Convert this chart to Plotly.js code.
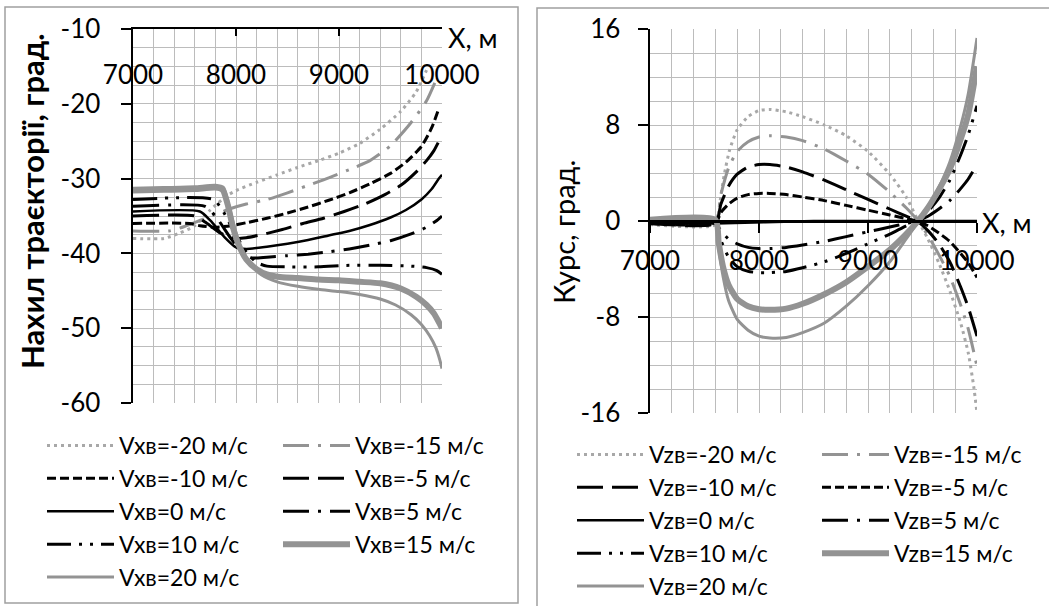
<!DOCTYPE html>
<html><head><meta charset="utf-8">
<script src="https://cdn.plot.ly/plotly-3.0.1.min.js"></script>
<style>html,body{margin:0;padding:0;background:#fff}#chart{width:1049px;height:606px}</style>
</head><body><div id="chart"></div>
<script>
// ---------- Left panel: pitch of trajectory (deg) vs X (m) ----------
const pitchNames = ['Vxв=-20 м/с','Vxв=-15 м/с','Vxв=-10 м/с','Vxв=-5 м/с','Vxв=0 м/с','Vxв=5 м/с','Vxв=10 м/с','Vxв=15 м/с','Vxв=20 м/с'];
const pitchX_m20 = [7000,7300,7450,7600,7750,7900,8000,8200,8400,8600,8800,9000,9200,9400,9600,9750,9850];
const pitchY_m20 = [-38,-38,-37.3,-36.3,-34.2,-32.4,-31.6,-30.5,-29.5,-28.5,-27.6,-26.6,-25.3,-23.4,-21,-18.4,-15.5];
const pitchX_m15 = [7000,7350,7500,7650,7800,7950,8100,8300,8500,8700,8900,9100,9300,9500,9700,9850,9930];
const pitchY_m15 = [-37,-37,-36.4,-35.6,-34.8,-34.0,-33.4,-32.8,-31.9,-30.9,-29.9,-28.8,-27.6,-25.6,-22.5,-19.6,-17.2];
const pitchX_m10 = [7000,7550,7650,7800,7950,8100,8300,8500,8700,8900,9100,9300,9500,9650,9800,9900,9970];
const pitchY_m10 = [-36,-36,-36.3,-36.5,-36.3,-35.9,-35.3,-34.6,-33.8,-32.9,-31.9,-30.7,-29.3,-27.8,-25.7,-23.2,-20.6];
const pitchX_m5 = [7000,7600,7700,7850,8000,8100,8250,8450,8650,8850,9050,9250,9450,9600,9750,9850,9920,9970];
const pitchY_m5 = [-35,-35,-35.8,-37.3,-38.0,-37.9,-37.5,-36.8,-36.0,-35.3,-34.4,-33.4,-32.1,-30.9,-29.1,-27.6,-26.3,-25.0];
const pitchX_0 = [7000,7650,7750,7900,8000,8100,8300,8500,8700,8900,9100,9300,9500,9650,9800,9900,9970,10000];
const pitchY_0 = [-34.4,-34.4,-35.6,-38.0,-39.2,-39.4,-39.1,-38.7,-38.2,-37.6,-37.0,-36.2,-35.2,-34.2,-32.8,-31.4,-30.0,-29.5];
const pitchX_p5 = [7000,7700,7800,7950,8050,8150,8300,8500,8700,8900,9100,9300,9500,9700,9850,9950,10000];
const pitchY_p5 = [-33.7,-33.7,-35.0,-38.0,-39.7,-40.6,-40.5,-40.3,-40.1,-39.8,-39.4,-38.9,-38.3,-37.4,-36.5,-35.6,-35.0];
const pitchX_p10 = [7000,7780,7880,8000,8100,8200,8300,8500,8800,9100,9400,9700,9850,9950,10000];
const pitchY_p10 = [-32.8,-32.8,-34.5,-37.6,-39.8,-41.2,-41.7,-41.8,-41.8,-41.6,-41.6,-41.7,-41.9,-42.3,-42.8];
const pitchX_p15 = [7000,7300,7600,7800,7870,7920,7970,8030,8100,8200,8300,8450,8600,8800,9000,9200,9400,9600,9750,9850,9920,9970,10000];
const pitchY_p15 = [-31.6,-31.5,-31.4,-31.2,-31.5,-33.5,-36.5,-39.0,-40.8,-42.1,-42.8,-43.2,-43.3,-43.5,-43.6,-43.8,-44.0,-44.7,-45.8,-46.9,-48.0,-49.2,-50.0];
const pitchX_p20 = [7000,7300,7600,7800,7880,7930,7990,8060,8150,8250,8400,8600,8800,9000,9200,9400,9550,9700,9800,9880,9940,9980,10000];
const pitchY_p20 = [-31.3,-31.2,-31.1,-30.9,-31.2,-33.5,-36.8,-39.6,-41.6,-42.9,-43.8,-44.4,-44.8,-45.1,-45.5,-46.1,-46.9,-48.2,-49.5,-51.0,-52.6,-54.3,-55.4];

// ---------- Right panel: heading (deg) vs X (m) ----------
const headNames = ['Vzв=-20 м/с','Vzв=-15 м/с','Vzв=-10 м/с','Vzв=-5 м/с','Vzв=0 м/с','Vzв=5 м/с','Vzв=10 м/с','Vzв=15 м/с','Vzв=20 м/с'];
const headX_m20 = [7000,7600,7640,7680,7730,7800,7900,8000,8100,8250,8400,8600,8800,9000,9200,9350,9450,9550,9650,9750,9850,9920,9970,10000];
const headY_m20 = [-0.3,-0.3,1.5,3.8,5.9,7.6,8.7,9.2,9.3,9.1,8.7,8.0,7.1,5.8,3.9,2.0,0.2,-1.5,-3.5,-5.8,-8.5,-11,-13.8,-16];
const headX_mid = [7000,7600,7650,7720,7800,7900,8000,8100,8250,8400,8600,8800,9000,9200,9350,9450,9550,9650,9750,9850,9920,10000];
const headY_m15 = [0,0,2.2,4.4,5.8,6.6,7.0,7.1,7.0,6.7,6.0,5.0,3.9,2.4,1.1,0.1,-1.2,-2.8,-4.6,-7.0,-9.0,-12.1];
const headY_m10 = [-0.2,-0.2,1.4,2.9,3.9,4.5,4.7,4.7,4.5,4.1,3.4,2.6,1.8,1.0,0.4,0,-0.8,-1.9,-3.4,-5.5,-7.2,-9.6];
const headY_m5 = [-0.2,-0.2,0.7,1.4,1.9,2.2,2.3,2.3,2.2,2.0,1.7,1.3,0.9,0.5,0.2,0,-0.4,-1.0,-1.7,-2.7,-3.5,-4.7];
const headY_p5 = [-0.2,-0.2,-0.8,-1.5,-1.9,-2.2,-2.3,-2.3,-2.2,-2.0,-1.7,-1.3,-0.9,-0.5,-0.2,0,0.4,1.0,1.7,2.7,3.5,4.7];
const headY_p10 = [-0.2,-0.2,-1.6,-3.0,-3.8,-4.2,-4.3,-4.3,-4.2,-3.9,-3.4,-2.7,-1.9,-1.1,-0.4,0,0.8,1.9,3.4,5.5,7.2,9.6];
const headX_0 = [7000,7600,8500,9450,10000];
const headY_0 = [-0.2,-0.2,0,0,0];
const headX_gray = [7000,7600,7630,7670,7720,7800,7900,8000,8100,8250,8400,8600,8800,9000,9200,9350,9450,9550,9650,9750,9850,9920,10000];
const headY_p15 = [0.1,0.1,-1.8,-3.8,-5.3,-6.5,-7.1,-7.35,-7.4,-7.3,-6.9,-6.1,-5.1,-3.8,-2.4,-1.1,-0.1,1.1,2.6,4.3,6.8,8.9,12.9];
const headY_p20 = [0.1,0.1,-2.2,-4.6,-6.6,-8.2,-9.1,-9.6,-9.75,-9.7,-9.3,-8.5,-7.1,-5.4,-3.4,-1.5,-0.2,1.1,2.8,4.9,7.9,10.6,15.25];

// tick labels
const pitchTickVals = [-60,-50,-40,-30,-20,-10];
const pitchTickText = ['-60','-50','-40','-30','-20','-10'];
const headTickVals = [-16,-8,0,8,16];
const headTickText = ['-16','-8','0','8','16'];

// ---------- styles ----------
const GRAY = '#939393', GRAYL = '#a8a8a8', BLACK = '#000000';
const stDot   = {color: GRAYL, width: 3,   dash: '3px,4px'};
const stGLDD  = {color: GRAY,  width: 3,   dash: '26px,9px,3px,9px'};
const stShort = {color: BLACK, width: 3,   dash: '9px,4px'};
const stLong  = {color: BLACK, width: 3,   dash: '26px,9px'};
const stSolid = {color: BLACK, width: 2.5, dash: 'solid'};
const stLDD   = {color: BLACK, width: 3,   dash: '26px,9px,3px,9px'};
const stLDDD  = {color: BLACK, width: 3,   dash: '24px,8px,3px,8px,3px,8px'};
const stThick = {color: GRAY,  width: 6,   dash: 'solid'};
const stThin  = {color: GRAY,  width: 3,   dash: 'solid'};

function tr(x, y, name, line, xa, ya, legend) {
  return {type: 'scatter', mode: 'lines', x: x, y: y, name: name, line: Object.assign({shape: 'spline', smoothing: 0.6}, line),
          xaxis: xa, yaxis: ya, legend: legend, hoverinfo: 'skip'};
}

const traces = [
  tr(pitchX_m20, pitchY_m20, pitchNames[0], stDot,   'x', 'y', 'legend'),
  tr(pitchX_m15, pitchY_m15, pitchNames[1], stGLDD,  'x', 'y', 'legend2'),
  tr(pitchX_m10, pitchY_m10, pitchNames[2], stShort, 'x', 'y', 'legend'),
  tr(pitchX_m5,  pitchY_m5,  pitchNames[3], stLong,  'x', 'y', 'legend2'),
  tr(pitchX_0,   pitchY_0,   pitchNames[4], stSolid, 'x', 'y', 'legend'),
  tr(pitchX_p5,  pitchY_p5,  pitchNames[5], stLDD,   'x', 'y', 'legend2'),
  tr(pitchX_p10, pitchY_p10, pitchNames[6], stLDDD,  'x', 'y', 'legend'),
  tr(pitchX_p15, pitchY_p15, pitchNames[7], stThick, 'x', 'y', 'legend2'),
  tr(pitchX_p20, pitchY_p20, pitchNames[8], stThin,  'x', 'y', 'legend'),

  tr(headX_m20,  headY_m20, headNames[0], stDot,   'x2', 'y2', 'legend3'),
  tr(headX_mid,  headY_m15, headNames[1], stGLDD,  'x2', 'y2', 'legend4'),
  tr(headX_mid,  headY_m10, headNames[2], stLong,  'x2', 'y2', 'legend3'),
  tr(headX_mid,  headY_m5,  headNames[3], stShort, 'x2', 'y2', 'legend4'),
  tr(headX_0,    headY_0,   headNames[4], stSolid, 'x2', 'y2', 'legend3'),
  tr(headX_mid,  headY_p5,  headNames[5], stLDD,   'x2', 'y2', 'legend4'),
  tr(headX_mid,  headY_p10, headNames[6], stLDDD,  'x2', 'y2', 'legend3'),
  tr(headX_gray, headY_p15, headNames[7], stThick, 'x2', 'y2', 'legend4'),
  tr(headX_gray, headY_p20, headNames[8], stThin,  'x2', 'y2', 'legend3')
];

const W = 1049, H = 606;
const px = v => v / W, py = v => 1 - v / H;
const FONT = 'Lato, "Open Sans", sans-serif';
const GRID = '#bcbcbc';

function legendAt(x, y) {
  return {x: px(x), y: py(y), xanchor: 'left', yanchor: 'top', orientation: 'v', bgcolor: 'rgba(0,0,0,0)',
          borderwidth: 0, font: {family: FONT, size: 23, color: '#000'}, itemwidth: 67,
          traceorder: 'normal', itemclick: false, itemdoubleclick: false};
}

const layout = {
  width: W, height: H, margin: {l: 0, r: 0, t: 0, b: 0, autoexpand: false},
  paper_bgcolor: '#fff', plot_bgcolor: '#fff', showlegend: true,
  font: {family: FONT, color: '#000'},
  xaxis: {domain: [px(133), px(442)], range: [7000, 10000], anchor: 'y', side: 'top', automargin: false,
    showline: true, linecolor: '#000', linewidth: 2.5, ticks: 'inside', ticklen: 7, tickwidth: 2, tickcolor: '#000',
    tick0: 7000, dtick: 1000, tickformat: 'd', showgrid: true, gridcolor: GRID, gridwidth: 1, zeroline: false,
    minor: {tick0: 7000, dtick: 200, showgrid: true, gridcolor: GRID, gridwidth: 1, ticks: ''},
    ticklabelposition: 'inside', ticklabeloverflow: 'allow', ticklabelstandoff: 32,
    tickfont: {family: FONT, size: 26, color: '#000'}, fixedrange: true},
  yaxis: {domain: [py(403), py(29)], range: [-60, -10], anchor: 'x', automargin: false,
    showline: true, linecolor: '#000', linewidth: 2.5, ticks: 'outside', ticklen: 10, tickwidth: 2, tickcolor: '#000',
    tickmode: 'array', tickvals: pitchTickVals, ticktext: pitchTickText, showgrid: true, gridcolor: GRID, gridwidth: 1, zeroline: false,
    minor: {tickmode: 'linear', tick0: -60, dtick: 2.5, showgrid: true, gridcolor: GRID, gridwidth: 1, ticks: ''},
    ticklabelstandoff: 15, tickfont: {family: FONT, size: 26, color: '#000'}, fixedrange: true},
  xaxis2: {domain: [px(650), px(977)], range: [7000, 10000], anchor: 'free', position: (py(413) + py(29)) / 2, side: 'bottom', automargin: false,
    showline: true, linecolor: '#000', linewidth: 2.5, ticks: 'outside', ticklen: 10, tickwidth: 2, tickcolor: '#000',
    tick0: 7000, dtick: 1000, tickformat: 'd', showgrid: true, gridcolor: GRID, gridwidth: 1, zeroline: false,
    minor: {tick0: 7000, dtick: 200, showgrid: true, gridcolor: GRID, gridwidth: 1, ticks: ''},
    ticklabeloverflow: 'allow', ticklabelstandoff: 6,
    tickfont: {family: FONT, size: 26, color: '#000'}, fixedrange: true},
  yaxis2: {domain: [py(413), py(29)], range: [-16, 16], anchor: 'x2', automargin: false,
    showline: true, linecolor: '#000', linewidth: 2.5, ticks: 'outside', ticklen: 10, tickwidth: 2, tickcolor: '#000',
    tickmode: 'array', tickvals: headTickVals, ticktext: headTickText, showgrid: true, gridcolor: GRID, gridwidth: 1, zeroline: false,
    minor: {tickmode: 'linear', tick0: -16, dtick: 2, showgrid: true, gridcolor: GRID, gridwidth: 1, ticks: ''},
    ticklabelstandoff: 12, tickfont: {family: FONT, size: 26, color: '#000'}, fixedrange: true},
  legend: legendAt(42, 424),
  legend2: legendAt(278, 424),
  legend3: legendAt(572, 433),
  legend4: legendAt(817, 433),
  shapes: [
    {type: 'rect', xref: 'paper', yref: 'paper', x0: px(5), x1: px(518), y0: py(603), y1: py(7), line: {color: '#a0a0a0', width: 1.5}, layer: 'below'},
    {type: 'rect', xref: 'paper', yref: 'paper', x0: px(537), x1: px(1060), y0: py(620), y1: py(8), line: {color: '#a0a0a0', width: 1.5}, layer: 'below'}
  ],
  annotations: [
    {text: 'X, м', xref: 'paper', yref: 'paper', x: px(446), y: py(37), xanchor: 'left', yanchor: 'middle', showarrow: false, font: {family: FONT, size: 27, color: '#000'}},
    {text: 'X, м', xref: 'paper', yref: 'paper', x: px(980), y: py(222), xanchor: 'left', yanchor: 'middle', showarrow: false, font: {family: FONT, size: 27, color: '#000'}},
    {text: '<b>Нахил траєкторії, град.</b>', xref: 'paper', yref: 'paper', x: px(32), y: py(201), xanchor: 'center', yanchor: 'middle', textangle: -90, showarrow: false, font: {family: FONT, size: 31, color: '#000'}},
    {text: 'Курс, град.', xref: 'paper', yref: 'paper', x: px(564), y: py(232), xanchor: 'center', yanchor: 'middle', textangle: -90, showarrow: false, font: {family: FONT, size: 29, color: '#000'}}
  ]
};

Plotly.newPlot('chart', traces, layout, {staticPlot: true, displayModeBar: false});
</script></body></html>
